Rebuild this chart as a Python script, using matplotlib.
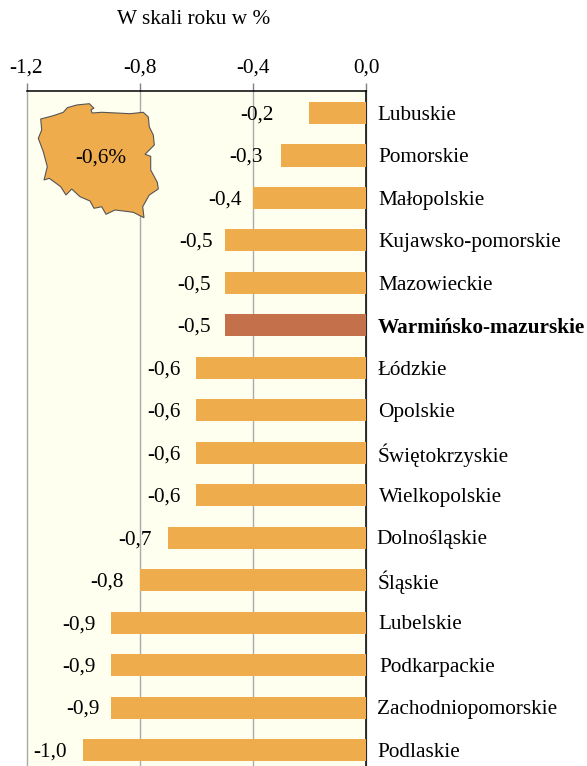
import matplotlib
matplotlib.use('Agg')
from matplotlib import pyplot as plt
from matplotlib.patches import Polygon

plt.rcParams['font.family'] = ['Liberation Serif', 'DejaVu Serif']

regions = ['Lubuskie', 'Pomorskie', 'Małopolskie', 'Kujawsko-pomorskie', 'Mazowieckie',
           'Warmińsko-mazurskie', 'Łódzkie', 'Opolskie', 'Świętokrzyskie', 'Wielkopolskie',
           'Dolnośląskie', 'Śląskie', 'Lubelskie', 'Podkarpackie', 'Zachodniopomorskie', 'Podlaskie']
values = [-0.2, -0.3, -0.4, -0.5, -0.5, -0.5, -0.6, -0.6, -0.6, -0.6, -0.7, -0.8, -0.9, -0.9, -0.9, -1.0]
ticks = [-1.2, -0.8, -0.4, 0.0]
tick_labels = ['-1,2', '-0,8', '-0,4', '0,0']
highlight = 'Warmińsko-mazurskie'

# przesuniecia podpisow w pikselach, bo w oryginale nie sa rowno
value_gap = [36, 18, 11, 12, 14, 14, 16, 16, 16, 16, 16, 16, 16, 16, 12, 16]
name_gap = [11, 12, 12, 12, 12, 12, 12, 12, 12, 13, 10, 12, 12, 13, 11, 11]

# kontur Polski w pikselach obrazka
map_x = [40.7, 53.3, 63.3, 67.3, 76.7, 89.3, 94, 91, 92, 101.7, 116.7, 130, 143.3, 148.3, 149.3, 153.3, 154.3,
         145, 150.7, 150.7, 157.3, 158.3, 149.3, 142.7, 144, 133.3, 123.3, 115, 106, 101.7, 94, 90, 80, 71.7,
         66, 60.7, 49.3, 44, 47.3, 43.3, 38.3, 41.7]
map_y = [119, 115.7, 112.3, 107.7, 105, 103.7, 108.3, 109.7, 113, 112.3, 113, 113.7, 112.3, 117, 127, 135, 145,
         154.3, 156.3, 170, 182.3, 189, 195, 206.7, 217.7, 212.3, 211, 210, 214.3, 206.7, 208.3, 201, 196.7, 189,
         195, 186.7, 178.3, 180, 166.7, 151.7, 138.3, 130]

W, H = 587, 766
fig = plt.figure(figsize=(W / 100, H / 100), dpi=100)
left, right, top, bottom = 26.5, 366, 91, 766
ax = fig.add_axes([left / W, 1 - bottom / H, (right - left) / W, (bottom - top) / H])
ax.set_facecolor('#FFFFF0')

y = list(range(len(regions)))
colors = ['#C4704B' if r == highlight else '#EFAC4D' for r in regions]
ax.barh(y, values, height=0.52, color=colors, zorder=3)

ax.set_xlim(-1.2, 0)
ax.set_ylim(15.376, -0.518)
ax.xaxis.tick_top()
ax.set_xticks(ticks)
ax.set_xticklabels(tick_labels, fontsize=15.3)
ax.tick_params(axis='x', length=6, width=1, color='#808080', pad=3.5)
ax.set_yticks([])
ax.grid(axis='x', color='#A9A9A9', linewidth=1, zorder=1, clip_on=False)
ax.set_axisbelow(True)
for s in ['left', 'bottom']:
    ax.spines[s].set_visible(False)
for s in ['top', 'right']:
    ax.spines[s].set_linewidth(1.1)
    ax.spines[s].set_color('black')

# tekst jest o 1-2 piksele nizej niz srodek slupka
for i, (r, v) in enumerate(zip(regions, values)):
    ax.annotate(f'{v:.1f}'.replace('.', ','), (v, i), xytext=(-value_gap[i] * 0.72, -1.4),
                textcoords='offset points', ha='right', va='center', fontsize=15.3, color='black', zorder=5)
    ax.annotate(r, (0, i), xytext=(name_gap[i] * 0.72, -1.6), textcoords='offset points',
                ha='left', va='center', fontsize=15.3, color='black',
                fontweight='bold' if r == highlight else 'normal', annotation_clip=False)

# mapa na nakladce w pikselach
over = fig.add_axes([0, 0, 1, 1], facecolor='none')
over.set_xlim(0, W)
over.set_ylim(H, 0)
over.axis('off')
over.add_patch(Polygon(list(zip(map_x, map_y)), closed=True, facecolor='#EFAC4D', edgecolor='#555555', linewidth=0.8))
over.text(100.5, 158, '-0,6%', ha='center', va='center', fontsize=15.3)
over.text(194, 19, 'W skali roku w %', ha='center', va='center', fontsize=15.3)

fig.savefig('out.png', dpi=100)
